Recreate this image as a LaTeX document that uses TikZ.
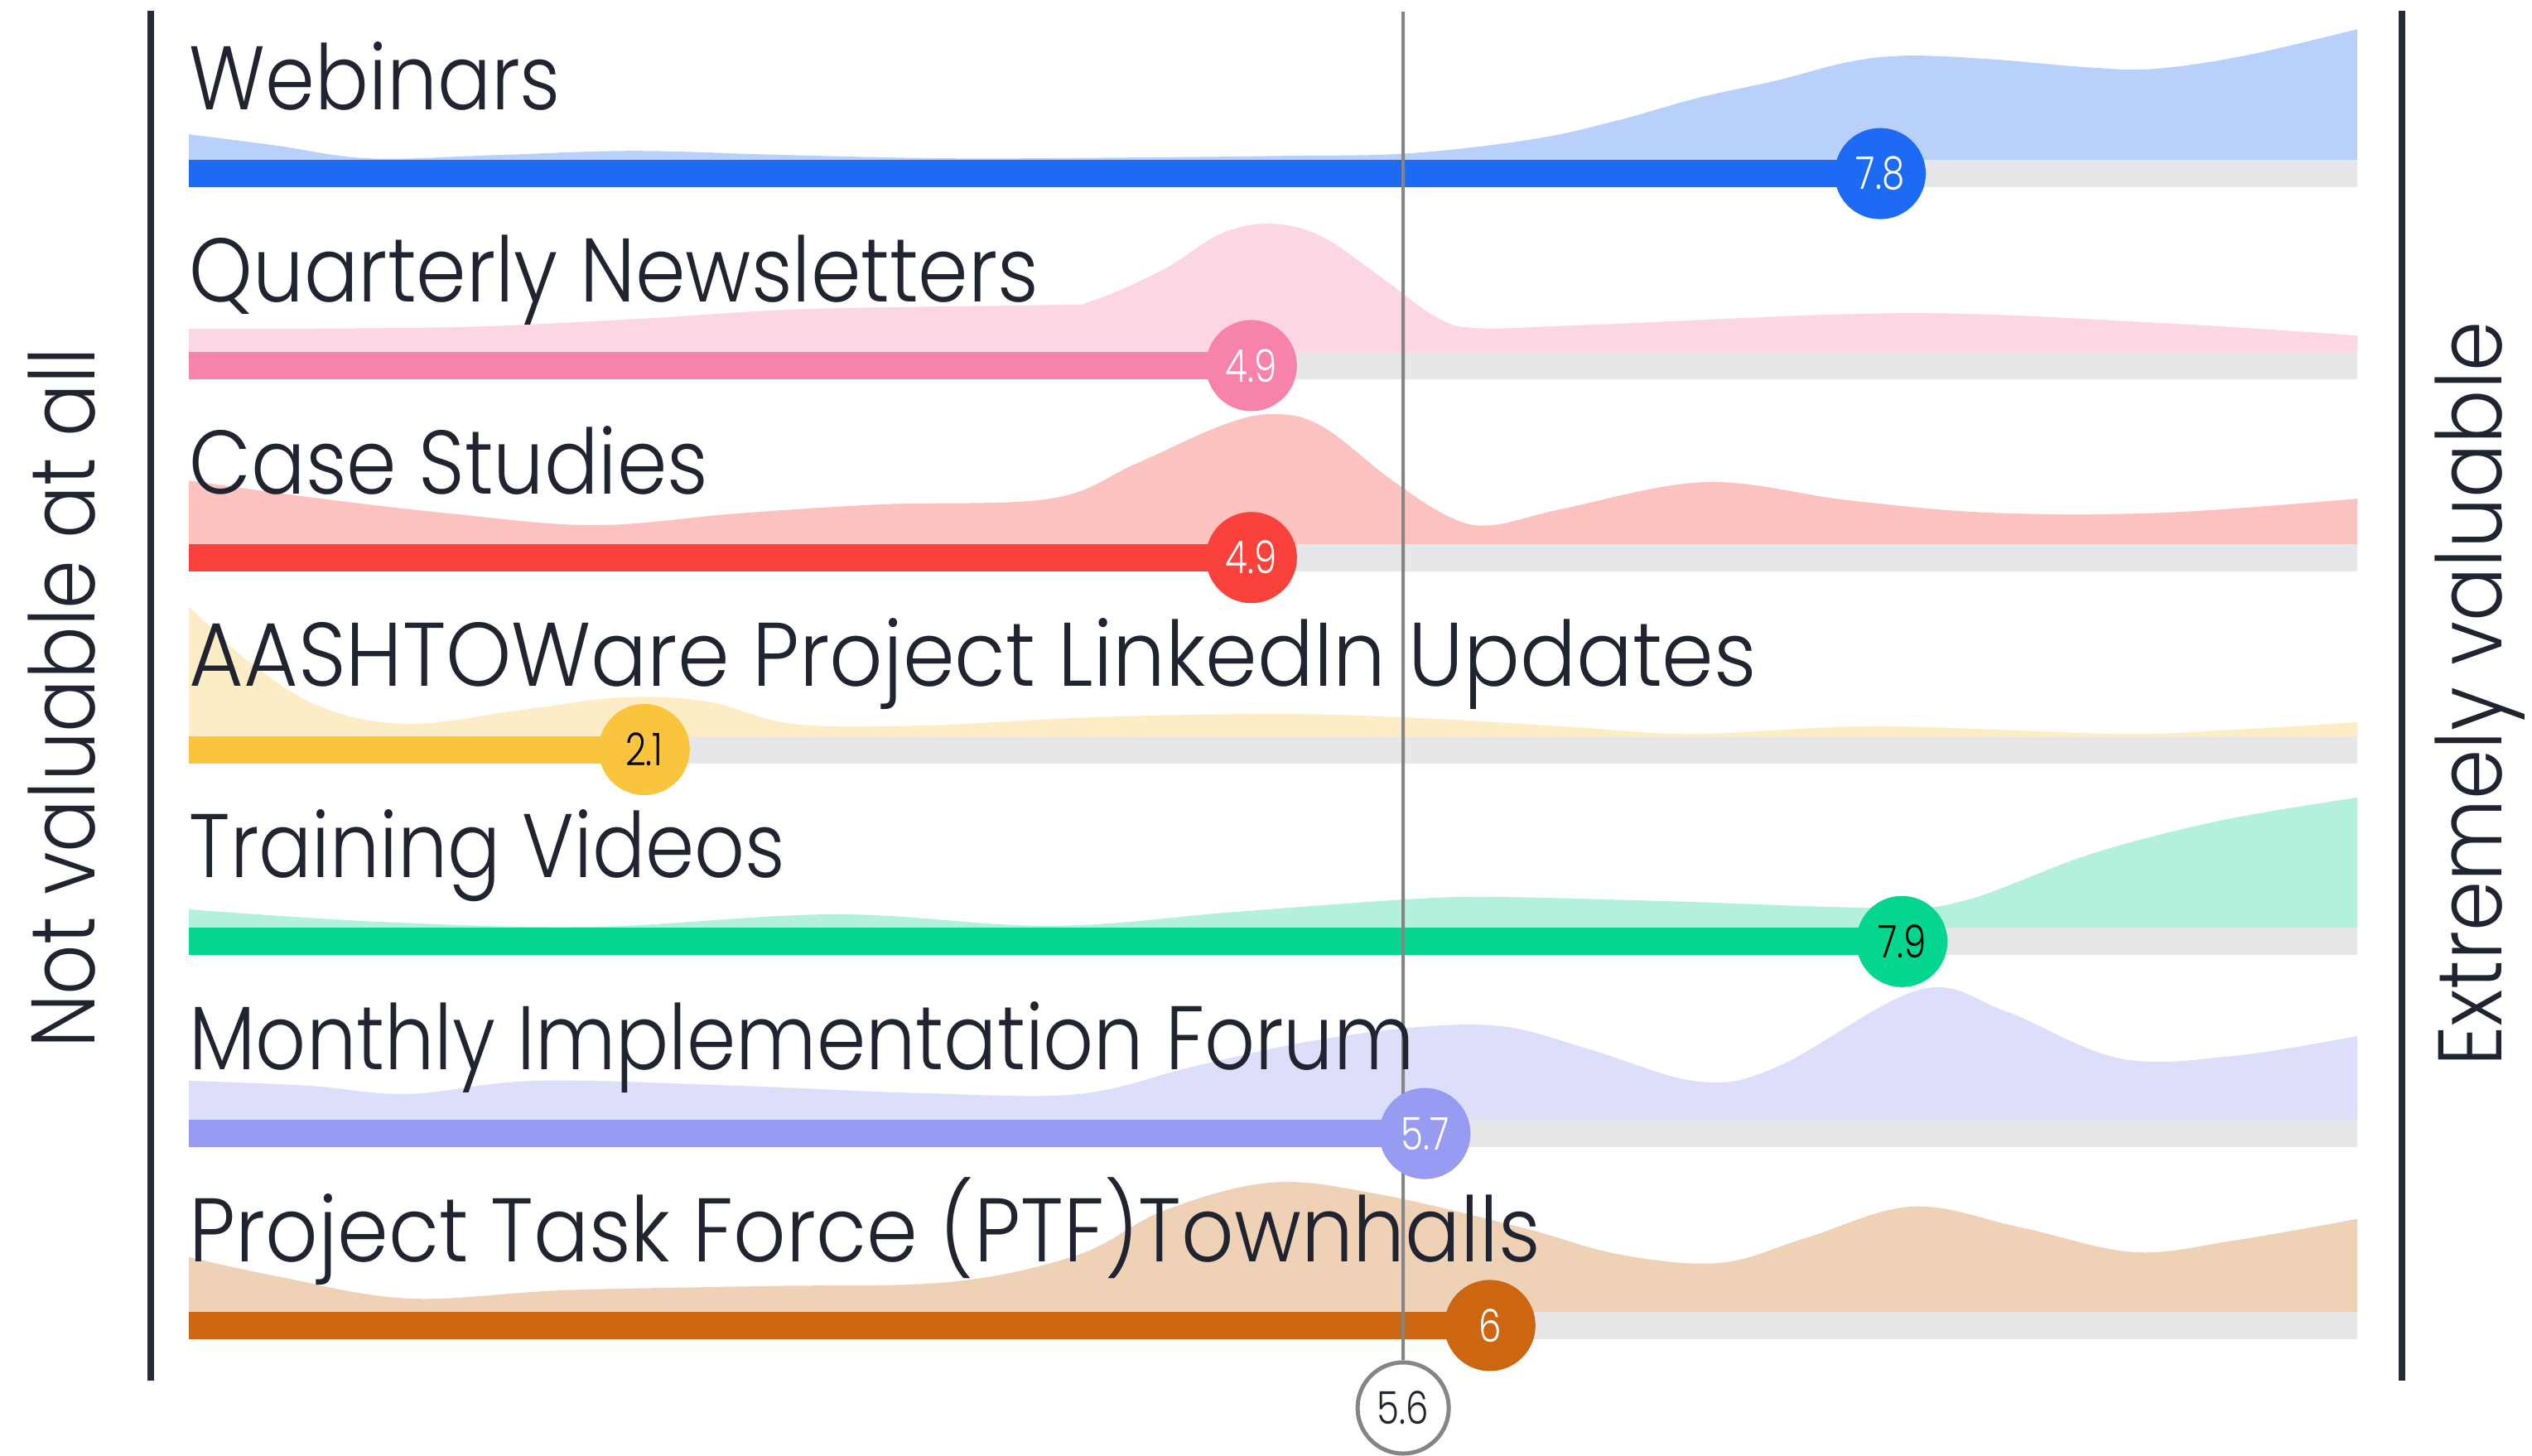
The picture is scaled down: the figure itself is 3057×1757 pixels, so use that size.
\documentclass[tikz,border=0pt]{standalone}
\usepackage{fontspec}
\usepackage{graphicx}
\setmainfont{Poppins Light}
\definecolor{axiscol}{HTML}{262A33}
\definecolor{labelcol}{HTML}{1F2430}
\definecolor{meancol}{HTML}{858585}
\definecolor{trackcol}{HTML}{E5E7E8}
\definecolor{wbB}{HTML}{1D6AF5}\definecolor{wbA}{HTML}{B9D1FA}
\definecolor{qnB}{HTML}{F783A8}\definecolor{qnA}{HTML}{FDD6E3}
\definecolor{csB}{HTML}{FB413B}\definecolor{csA}{HTML}{FBC2C0}
\definecolor{liB}{HTML}{FBC43D}\definecolor{liA}{HTML}{FDEDC6}
\definecolor{tvB}{HTML}{05D68F}\definecolor{tvA}{HTML}{B3F1DC}
\definecolor{mfB}{HTML}{979CF2}\definecolor{mfA}{HTML}{DDDFFA}
\definecolor{ptB}{HTML}{CC6611}\definecolor{ptA}{HTML}{EFD1B6}
\newcommand\labelfont{\fontsize{31}{36}\selectfont}
\newcommand\numfont{\fontsize{15.5}{18}\selectfont}
\newcommand\lbltext[2]{\resizebox{#1cm}{\height}{#2}}
\newcommand\numtext[1]{\scalebox{0.8}[1]{#1}}
\begin{document}
\begin{tikzpicture}[x=0.01cm,y=-0.01cm,
  axisline/.style={line width=0.075cm, draw=axiscol},
  meanline/.style={line width=0.04cm, draw=meancol},
  trackbar/.style={fill=trackcol},
  dot/.style={circle, minimum size=1.1cm, inner sep=0pt, font=\numfont},
  lbl/.style={anchor=base west, inner sep=0pt, text=labelcol, font=\labelfont},
  sidelbl/.style={anchor=base, inner sep=0pt, rotate=90, text=labelcol, font=\labelfont},
  dens/.style={smooth, tension=0.6}]
\useasboundingbox (0,0) rectangle (3057,1757);
\fill[white] (0,0) rectangle (3057,1757);

% ---------- density areas (y up inside each scope, origin at bar top)
\begin{scope}[yshift=-1.931cm, y=0.01cm]
\fill[wbA] (228,0) -- plot[dens] coordinates {(228,31) (330,18) (446,2) (600,6) (765,11) (950,6) (1150,2) (1365,3) (1550,5) (1700,8) (1850,25) (1950,47) (2050,75) (2145,96) (2230,118) (2301,126) (2400,122) (2520,112) (2600,110) (2710,126) (2846,158)} -- (2846,0) -- cycle;
\end{scope}
\begin{scope}[yshift=-4.249cm, y=0.01cm]
\fill[qnA] (228,0) -- plot[dens] coordinates {(228,28) (544,30) (768,40) (975,52) (1268,57) (1319,62) (1405,100) (1474,143) (1535,155) (1595,140) (1664,93) (1733,43) (1784,29) (1922,33) (2301,47) (2611,35) (2846,20)} -- (2846,0) -- cycle;
\end{scope}
\begin{scope}[yshift=-6.567cm, y=0.01cm]
\fill[csA] (228,0) -- plot[dens] coordinates {(228,77) (372,57) (544,37) (717,23) (889,37) (1061,48) (1268,55) (1371,97) (1474,143) (1535,157) (1595,143) (1681,77) (1750,33) (1801,23) (1888,43) (2060,75) (2232,53) (2404,38) (2611,38) (2846,55)} -- (2846,0) -- cycle;
\end{scope}
\begin{scope}[yshift=-8.885cm, y=0.01cm]
\fill[liA] (228,0) -- plot[dens] coordinates {(228,157) (303,88) (389,35) (493,15) (631,32) (751,47) (854,42) (958,15) (1113,13) (1319,23) (1543,27) (1715,22) (1888,12) (2043,3) (2266,12) (2559,3) (2697,8) (2846,17)} -- (2846,0) -- cycle;
\end{scope}
\begin{scope}[yshift=-11.203cm, y=0.01cm]
\fill[tvA] (228,0) -- plot[dens] coordinates {(228,23) (458,8) (717,2) (1009,17) (1268,3) (1492,20) (1698,35) (1801,38) (2008,33) (2266,25) (2370,33) (2525,90) (2680,130) (2846,158)} -- (2846,0) -- cycle;
\end{scope}
\begin{scope}[yshift=-13.521cm, y=0.01cm]
\fill[mfA] (228,0) -- plot[dens] coordinates {(228,48) (372,42) (493,32) (648,48) (889,42) (1113,33) (1302,32) (1440,65) (1578,95) (1715,113) (1819,113) (1922,85) (2051,47) (2146,65) (2318,158) (2421,132) (2559,75) (2697,78) (2846,102)} -- (2846,0) -- cycle;
\end{scope}
\begin{scope}[yshift=-15.839cm, y=0.01cm]
\fill[ptA] (228,0) -- plot[dens] coordinates {(228,67) (338,43) (493,17) (682,27) (923,32) (1147,37) (1302,70) (1405,123) (1535,157) (1664,143) (1836,103) (1956,70) (2077,60) (2180,90) (2309,128) (2439,103) (2576,73) (2697,87) (2846,113)} -- (2846,0) -- cycle;
\end{scope}

% ---------- tracks and bars
\foreach \t in {193.1,424.9,656.7,888.5,1120.3,1352.1,1583.9}
  \fill[trackbar] (228,\t) rectangle (2846,\t+33);
\fill[wbB] (228,193.1) rectangle (2270.0,226.1);
\fill[qnB] (228,424.9) rectangle (1510.8,457.9);
\fill[csB] (228,656.7) rectangle (1510.8,689.7);
\fill[liB] (228,888.5) rectangle (777.8,921.5);
\fill[tvB] (228,1120.3) rectangle (2296.2,1153.3);
\fill[mfB] (228,1352.1) rectangle (1720.3,1385.1);
\fill[ptB] (228,1583.9) rectangle (1798.8,1616.9);

% ---------- axes
\coordinate (lt) at (182,13);
\coordinate (lb) at (182,1667);
\coordinate (rt) at (2900,13);
\coordinate (rb) at (2900,1667);
\draw[axisline] (lt) -- (lb);
\draw[axisline] (rt) -- (rb);

% ---------- mean line and marker
\coordinate (mt) at (1694,14);
\node[dot, fill=white, draw=meancol, line width=0.05cm, text=labelcol] (m56) at (1694.1,1700) {\numtext{5.6}};
\draw[meanline] (mt) -- (m56.north);

% ---------- value markers
\node[dot, fill=wbB, text=white] (v1) at (2270.0,209.6) {\numtext{7.8}};
\node[dot, fill=qnB, text=white] (v2) at (1510.8,441.4) {\numtext{4.9}};
\node[dot, fill=csB, text=white] (v3) at (1510.8,673.2) {\numtext{4.9}};
\node[dot, fill=liB, text=black] (v4) at (777.8,905.0) {\numtext{2.1}};
\node[dot, fill=tvB, text=black] (v5) at (2296.2,1136.8) {\numtext{7.9}};
\node[dot, fill=mfB, text=white] (v6) at (1720.3,1368.6) {\numtext{5.7}};
\node[dot, fill=ptB, text=white] (v7) at (1798.8,1600.4) {\numtext{6}};

% ---------- row labels
\node[lbl] (l1) at (228,132.6) {\lbltext{4.48}{Webinars}};
\node[lbl] (l2) at (228,364.4) {\lbltext{10.25}{Quarterly Newsletters}};
\node[lbl] (l3) at (228,596.2) {\lbltext{6.26}{Case Studies}};
\node[lbl] (l4) at (228,828.0) {\lbltext{18.91}{AASHTOWare Project LinkedIn Updates}};
\node[lbl] (l5) at (228,1059.8) {\lbltext{7.19}{Training Videos}};
\node[lbl] (l6) at (228,1291.6) {\lbltext{14.78}{Monthly Implementation Forum}};
\node[lbl] (l7) at (228,1523.4) {\lbltext{16.30}{Project Task Force (PTF)Townhalls}};

% ---------- side labels
\node[sidelbl] (sl) at (114,843) {\lbltext{8.45}{Not valuable at all}};
\node[sidelbl] (sr) at (3020,838) {\lbltext{8.99}{Extremely valuable}};
\end{tikzpicture}
\end{document}
